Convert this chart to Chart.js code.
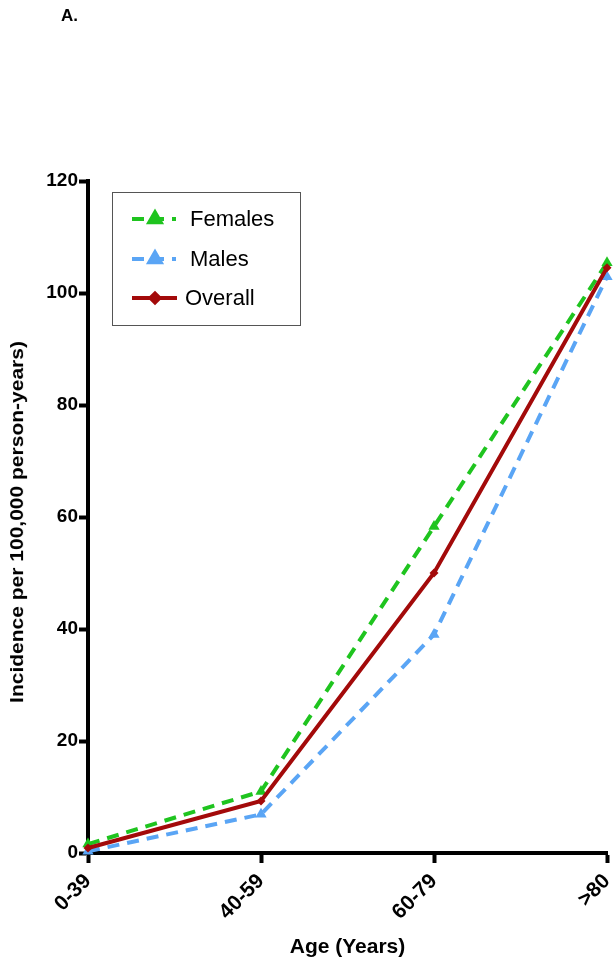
<!DOCTYPE html>
<html>
<head>
<meta charset="utf-8">
<script src="https://cdn.jsdelivr.net/npm/chart.js@4"></script>
<style>
    body { margin: 0; background: #fff; }
    #wrap { position: relative; width: 616px; height: 969px; }
    #label_a { position: absolute; left: 61px; top: 6px; font: bold 17px 'Liberation Sans', Arial, sans-serif; }
    #y_title {
        position: absolute; left: -182px; top: 509px; width: 400px; height: 26px; line-height: 26px;
        text-align: center; white-space: nowrap;
        font: bold 21px 'Liberation Sans', Arial, sans-serif;
        transform: rotate(-90deg) scaleY(0.84);
    }
</style>
</head>
<body>
<div id="wrap">
    <canvas id="chart" width="616" height="969"></canvas>
    <div id="label_a">A.</div>
    <div id="y_title">Incidence  per 100,000 person-years)</div>
</div>
<script>
// データ
var ages = ['0-39', '40-59', '60-79', '>80'];
var females = [1.6, 11.0, 58.3, 105.4];
var males = [0.3, 6.9, 39.0, 102.9];
var overall = [0.9, 9.3, 50.0, 104.5];
var y_ticks = [0, 20, 40, 60, 80, 100, 120];

var font = "'Liberation Sans', Arial, sans-serif";

// 凡例（グラフ内に枠つきで描く）
var boxLegend = {
    id: 'boxLegend',
    afterDraw: function (chart) {
        var ctx = chart.ctx;
        ctx.save();
        ctx.strokeStyle = '#555';
        ctx.lineWidth = 1;
        ctx.strokeRect(112.5, 192.5, 188, 133);
        var rows = [219, 259, 298];
        for (let i = 0; i < chart.data.datasets.length; i++) {
            var ds = chart.data.datasets[i];
            var y = rows[i];
            ctx.beginPath();
            ctx.setLineDash(ds.borderDash || []);
            ctx.strokeStyle = ds.borderColor;
            ctx.lineWidth = ds.borderWidth;
            ctx.moveTo(132, y);
            ctx.lineTo(ds.borderDash ? 176 : 177, y);
            ctx.stroke();
            ctx.setLineDash([]);
            Chart.helpers.drawPoint(ctx, {
                pointStyle: ds.pointStyle,
                radius: ds.pointRadius,
                borderWidth: 1
            }, 155, y);
            ctx.fillStyle = ds.backgroundColor;
            ctx.fill();
            ctx.fillStyle = '#000';
            ctx.font = '22px ' + font;
            ctx.textBaseline = 'middle';
            ctx.fillText(ds.label, i == 2 ? 185 : 190, y + 1);
        }
        ctx.restore();
    }
};

var context = document.querySelector('#chart').getContext('2d');
new Chart(context, {
    type: 'line',
    data: {
        labels: ages,
        datasets: [{
            label: 'Females',
            data: females,
            borderColor: '#1fc41f',
            backgroundColor: '#1fc41f',
            borderWidth: 4,
            borderDash: [12, 8],
            pointStyle: 'triangle',
            pointRadius: 6.5,
            pointBorderWidth: 0,
            order: 2,
            clip: false
        }, {
            label: 'Males',
            data: males,
            borderColor: '#5aa5f5',
            backgroundColor: '#5aa5f5',
            borderWidth: 4,
            borderDash: [12, 8],
            pointStyle: 'triangle',
            pointRadius: 6.5,
            pointBorderWidth: 0,
            order: 1,
            clip: false
        }, {
            label: 'Overall',
            data: overall,
            borderColor: '#a30a0a',
            backgroundColor: '#a30a0a',
            borderWidth: 4,
            pointStyle: 'rectRot',
            pointRadius: 4.5,
            pointBorderWidth: 0,
            order: 0,
            clip: false
        }]
    },
    options: {
        responsive: false,
        animation: false,
        layout: { padding: { top: 181, right: 9, left: 0, bottom: 0 } },
        plugins: {
            legend: { display: false },
            tooltip: { enabled: false }
        },
        scales: {
            x: {
                offset: false,
                border: { display: true, color: '#000', width: 4 },
                grid: { drawOnChartArea: false, drawTicks: true, tickLength: 10, tickWidth: 4, tickColor: '#000' },
                ticks: { color: '#000', font: { family: font, size: 21, weight: 'bold' }, minRotation: 45, maxRotation: 45, padding: 6 },
                title: {
                    display: true,
                    text: 'Age (Years)',
                    color: '#000',
                    font: { family: font, size: 21, weight: 'bold' },
                    padding: { top: 0, bottom: 9 }
                },
                afterFit: function (s) { s.height = 116; s.paddingLeft = 0; s.paddingRight = 0; }
            },
            y: {
                min: 0,
                max: 120,
                afterBuildTicks: function (s) { s.ticks = y_ticks.map(function (v) { return { value: v }; }); },
                border: { display: true, color: '#000', width: 4 },
                grid: { drawOnChartArea: false, drawTicks: true, tickLength: 9, tickWidth: 4, tickColor: '#000' },
                ticks: { color: '#000', font: { family: font, size: 19, weight: 'bold' }, padding: 1 },
                afterFit: function (s) { s.width = 88; s.paddingTop = 0; s.paddingBottom = 0; }
            }
        }
    },
    plugins: [boxLegend]
});
</script>
</body>
</html>
